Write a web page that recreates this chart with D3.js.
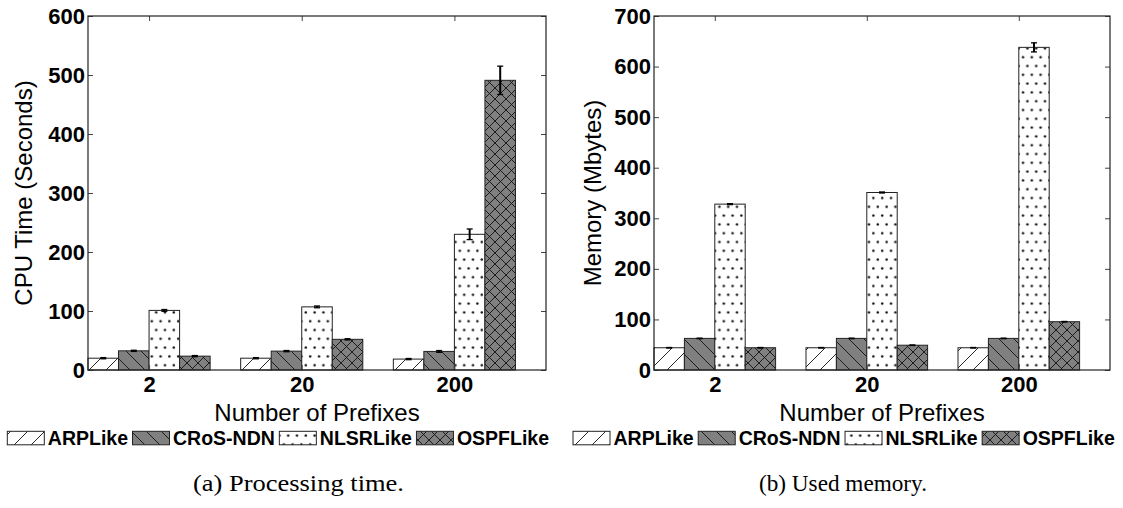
<!DOCTYPE html>
<html><head><meta charset="utf-8">
<script src="https://cdn.jsdelivr.net/npm/d3@7"></script>
<style>body{margin:0;background:#fff}svg{display:block}</style>
</head><body><svg id="c" width="1123" height="508"></svg>
<script>
// ---- data ----
const categories = ["2", "20", "200"];
const seriesNames = ["ARPLike", "CRoS-NDN", "NLSRLike", "OSPFLike"];
const cpuARP  = [20, 20, 18.5];
const cpuCRoS = [32.5, 32, 31.5];
const cpuNLSR = [101, 107, 230];
const cpuOSPF = [23.5, 52, 491];
const cpuARPErr  = [1, 1, 1];
const cpuCRoSErr = [1, 1, 1.5];
const cpuNLSRErr = [1.5, 1.5, 9];
const cpuOSPFErr = [1, 1, 24];
const memARP  = [44, 44, 44];
const memCRoS = [62.5, 62.5, 62.5];
const memNLSR = [328, 351, 638];
const memOSPF = [44, 49, 95.5];
const memARPErr  = [0.5, 0.5, 0.5];
const memCRoSErr = [0.5, 0.5, 0.5];
const memNLSRErr = [1, 1, 9];
const memOSPFErr = [0.5, 0.5, 0.5];
const cpuTicks = [0, 100, 200, 300, 400, 500, 600];
const memTicks = [0, 100, 200, 300, 400, 500, 600, 700];
const xLabel = "Number of Prefixes";
const cpuYLabel = "CPU Time (Seconds)";
const memYLabel = "Memory (Mbytes)";
const captions = ["(a) Processing time.", "(b) Used memory."];

// ---- drawing ----
const svg = d3.select("#c");
const defs = svg.append("defs");
const GRAY = "#808080";
const SANS = "'Liberation Sans', Arial, Helvetica, sans-serif";

function pat(id, w, h, fill) {
  const p = defs.append("pattern").attr("id", id).attr("patternUnits", "userSpaceOnUse")
    .attr("width", w).attr("height", h);
  p.append("rect").attr("width", w).attr("height", h).attr("fill", fill);
  return p;
}
function ln(p, x1, y1, x2, y2) {
  p.append("line").attr("x1", x1).attr("y1", y1).attr("x2", x2).attr("y2", y2)
    .attr("stroke", "#111").attr("stroke-width", 0.9);
}
// '/' hatch
{ const s = 17, p = pat("hSlash", s, s, "#fff");
  ln(p, -1, s + 1, s + 1, -1); ln(p, -1, 1, 1, -1); ln(p, s - 1, s + 1, s + 1, s - 1); }
// '\' hatch
{ const s = 15, p = pat("hBack", s, s, GRAY);
  ln(p, -1, -1, s + 1, s + 1); ln(p, -1, s - 1, 1, s + 1); ln(p, s - 1, -1, s + 1, 1); }
// 'x' hatch
{ const s = 11, p = pat("hCross", s, s, GRAY);
  ln(p, -1, -1, s + 1, s + 1); ln(p, -1, s - 1, 1, s + 1); ln(p, s - 1, -1, s + 1, 1);
  ln(p, -1, s + 1, s + 1, -1); ln(p, -1, 1, 1, -1); ln(p, s - 1, s + 1, s + 1, s - 1); }
// dots
{ const p = pat("hDots", 8.8, 17.6, "#fff");
  p.append("circle").attr("cx", 2.2).attr("cy", 4.4).attr("r", 1.25).attr("fill", "#111");
  p.append("circle").attr("cx", 6.6).attr("cy", 13.2).attr("r", 1.25).attr("fill", "#111"); }
const fills = ["url(#hSlash)", "url(#hBack)", "url(#hDots)", "url(#hCross)"];

function chart(cfg) {
  const { left, right, top, bottom, ymax, ticks, series, errs, ylab, ylabX } = cfg;
  const x = d3.scaleLinear().domain([-0.4, 2.6]).range([left, right]);
  const y = d3.scaleLinear().domain([0, ymax]).range([bottom, top]);
  const bw = 0.2;
  const g = svg.append("g");
  series.forEach((vals, si) => {
    g.selectAll(null).data(vals).enter().append("rect")
      .attr("x", (d, i) => x(i - 0.4 + si * bw))
      .attr("width", x(bw) - x(0))
      .attr("y", d => y(d))
      .attr("height", d => y(0) - y(d))
      .attr("fill", fills[si]).attr("stroke", "#222").attr("stroke-width", 1);
  });
  series.forEach((vals, si) => {
    vals.forEach((v, i) => {
      const cx = x(i - 0.4 + si * bw + bw / 2), e = errs[si][i];
      g.append("line").attr("x1", cx).attr("x2", cx).attr("y1", y(v - e)).attr("y2", y(v + e))
        .attr("stroke", "#000").attr("stroke-width", 2);
      [v - e, v + e].forEach(t => g.append("line").attr("x1", cx - 3).attr("x2", cx + 3)
        .attr("y1", y(t)).attr("y2", y(t)).attr("stroke", "#000").attr("stroke-width", 1.3));
    });
  });
  const ax = (a) => a.tickSizeOuter(0);
  const gl = svg.append("g").attr("transform", `translate(${left},0)`)
    .call(ax(d3.axisLeft(y).tickValues(ticks).tickSize(-5).tickPadding(3)));
  const gr = svg.append("g").attr("transform", `translate(${right},0)`)
    .call(ax(d3.axisRight(y).tickValues(ticks).tickSize(-5).tickFormat("")));
  const gb = svg.append("g").attr("transform", `translate(0,${bottom})`)
    .call(ax(d3.axisBottom(x).tickValues([0, 1, 2]).tickSize(-5).tickPadding(6.5).tickFormat(i => categories[i])));
  const gt = svg.append("g").attr("transform", `translate(0,${top})`)
    .call(ax(d3.axisTop(x).tickValues([0, 1, 2]).tickSize(-5).tickFormat("")));
  [gl, gr, gb, gt].forEach(a => {
    a.select(".domain").remove();
    a.selectAll(".tick line").attr("stroke", "#444").attr("stroke-width", 1);
    a.selectAll("text").attr("font-family", SANS).attr("font-weight", "bold")
      .attr("font-size", 22).attr("fill", "#000");
  });
  svg.append("rect").attr("x", left).attr("y", top).attr("width", right - left).attr("height", bottom - top)
    .attr("fill", "none").attr("stroke", "#222").attr("stroke-width", 1.2);
  svg.append("text").attr("x", (left + right) / 2).attr("y", 421).attr("text-anchor", "middle")
    .attr("font-family", SANS).attr("font-size", 24).text(xLabel);
  svg.append("text").attr("transform", `translate(${ylabX},${(top + bottom) / 2}) rotate(-90)`)
    .attr("text-anchor", "middle").attr("font-family", SANS).attr("font-size", 24).text(ylab);
}

chart({ left: 88, right: 546, top: 16, bottom: 370, ymax: 600, ticks: cpuTicks,
  series: [cpuARP, cpuCRoS, cpuNLSR, cpuOSPF], errs: [cpuARPErr, cpuCRoSErr, cpuNLSRErr, cpuOSPFErr],
  ylab: cpuYLabel, ylabX: 32 });
chart({ left: 654, right: 1110, top: 16, bottom: 370, ymax: 700, ticks: memTicks,
  series: [memARP, memCRoS, memNLSR, memOSPF], errs: [memARPErr, memCRoSErr, memNLSRErr, memOSPFErr],
  ylab: memYLabel, ylabX: 601 });

// legends
function legend(x0) {
  let x = x0;
  seriesNames.forEach((n, i) => {
    svg.append("rect").attr("x", x).attr("y", 431.3).attr("width", 37).attr("height", 13.5)
      .attr("fill", fills[i]).attr("stroke", "#222").attr("stroke-width", 1);
    const t = svg.append("text").attr("x", x + 40.5).attr("y", 445).attr("font-family", SANS)
      .attr("font-weight", "bold").attr("font-size", 19.5).text(n);
    x = x + 40.5 + t.node().getComputedTextLength() + 4.5;
  });
}
legend(7.3);
legend(573);

// captions
const capPos = [[193, 211], [759, 168]];
captions.forEach((c, i) => {
  svg.append("text").attr("x", capPos[i][0]).attr("y", 491)
    .attr("font-family", "'Liberation Serif', 'Times New Roman', serif").attr("font-size", 23)
    .attr("textLength", capPos[i][1]).attr("lengthAdjust", "spacingAndGlyphs").text(c);
});
</script></body></html>
